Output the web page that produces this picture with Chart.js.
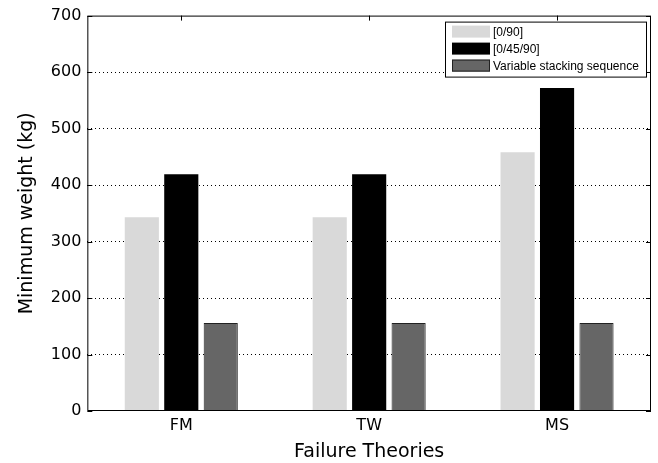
<!DOCTYPE html>
<html>
<head>
<meta charset="utf-8">
<script src="https://cdn.jsdelivr.net/npm/chart.js"></script>
<style>
  html, body { margin: 0; padding: 0; background: #fff; }
  #chart { display: block; }
</style>
</head>
<body>
<canvas id="chart" width="658" height="463"></canvas>
<script>
    "use strict";

    // data
    const theories = ["FM", "TW", "MS"];
    const layup090 = [343, 343, 458];
    const layup04590 = [419, 419, 572];
    const variableSeq = [156, 156, 156];
    const yTicks = [0, 100, 200, 300, 400, 500, 600, 700];

    const FONT = "'DejaVu Sans', sans-serif";
    const LEGEND_FONT = "'Liberation Sans', Arial, sans-serif";

    // -----------------------------
    // box, inward ticks
    // -----------------------------
    const frame = {
        id: "frame",
        afterDatasetsDraw: function (chart) {
            const ctx = chart.ctx;
            const a = chart.chartArea;
            const x = chart.scales.x;
            const y = chart.scales.y;
            ctx.save();
            ctx.strokeStyle = "#000";
            ctx.lineWidth = 1;
            ctx.strokeRect(a.left + 0.5, a.top + 0.5, a.right - a.left - 1, a.bottom - a.top - 1);
            ctx.beginPath();
            yTicks.forEach(function (v) {
                const py = Math.round(y.getPixelForValue(v)) + 0.5;
                ctx.moveTo(a.left, py); ctx.lineTo(a.left + 5, py);
                ctx.moveTo(a.right, py); ctx.lineTo(a.right - 5, py);
            });
            theories.forEach(function (t, i) {
                const px = Math.round(x.getPixelForValue(i)) + 0.5;
                ctx.moveTo(px, a.bottom); ctx.lineTo(px, a.bottom - 5);
                ctx.moveTo(px, a.top); ctx.lineTo(px, a.top + 5);
            });
            ctx.stroke();
            ctx.restore();
        }
    };

    // -----------------------------
    // legend box top right
    // -----------------------------
    const boxLegend = {
        id: "boxLegend",
        afterDraw: function (chart) {
            const ctx = chart.ctx;
            const a = chart.chartArea;
            const w = 201, h = 55;
            const lx = a.right - 5 - w;
            const ly = a.top + 6;
            ctx.save();
            ctx.fillStyle = "#fff";
            ctx.fillRect(lx, ly, w, h);
            ctx.strokeStyle = "#000";
            ctx.lineWidth = 1;
            ctx.strokeRect(lx + 0.5, ly + 0.5, w, h);
            ctx.font = "12px " + LEGEND_FONT;
            ctx.textBaseline = "middle";
            chart.data.datasets.forEach(function (ds, i) {
                const ry = ly + 10 + i * 17;
                ctx.fillStyle = ds.backgroundColor;
                ctx.fillRect(lx + 7, ry - 6, 38, 12);
                if (ds.borderWidth) {
                    ctx.strokeStyle = ds.borderColor;
                    ctx.strokeRect(lx + 7.5, ry - 5.5, 37, 11);
                }
                ctx.fillStyle = "#000";
                ctx.fillText(ds.label, lx + 48, ry + 1);
            });
            ctx.restore();
        }
    };

    new Chart(document.getElementById("chart"), {
        type: "bar",
        data: {
            labels: theories,
            datasets: [
                { label: "[0/90]", data: layup090, backgroundColor: "#d9d9d9", borderWidth: 0 },
                { label: "[0/45/90]", data: layup04590, backgroundColor: "#000000", borderWidth: 0 },
                { label: "Variable stacking sequence", data: variableSeq, backgroundColor: "#666666", borderColor: "#222222", borderWidth: 1 }
            ]
        },
        options: {
            responsive: false,
            animation: false,
            layout: { padding: { left: 16, right: 7, top: 15, bottom: 0 } },
            datasets: {
                bar: { barPercentage: 0.865, categoryPercentage: 0.63 }
            },
            plugins: {
                legend: { display: false },
                tooltip: { enabled: false }
            },
            scales: {
                x: {
                    grid: { display: false, drawTicks: false },
                    border: { display: false },
                    ticks: { color: "#000", font: { family: FONT, size: 16 }, padding: 5 },
                    title: { display: true, text: "Failure Theories", color: "#000", font: { family: FONT, size: 19 }, padding: { top: 0, bottom: 0 } }
                },
                y: {
                    min: 0,
                    max: 700,
                    afterBuildTicks: function (axis) {
                        axis.ticks = yTicks.map(function (v) { return { value: v }; });
                    },
                    grid: {
                        drawTicks: false,
                        color: function (c) {
                            return (c.tick.value === 0 || c.tick.value === 700) ? "rgba(0,0,0,0)" : "#000";
                        },
                        lineWidth: 1
                    },
                    border: { display: false, dash: [1, 3] },
                    ticks: { color: "#000", font: { family: FONT, size: 16 }, padding: 6 },
                    title: { display: true, text: "Minimum weight (kg)", color: "#000", font: { family: FONT, size: 19 }, padding: { top: 0, bottom: 6 } }
                }
            }
        },
        plugins: [frame, boxLegend]
    });
</script>
</body>
</html>
